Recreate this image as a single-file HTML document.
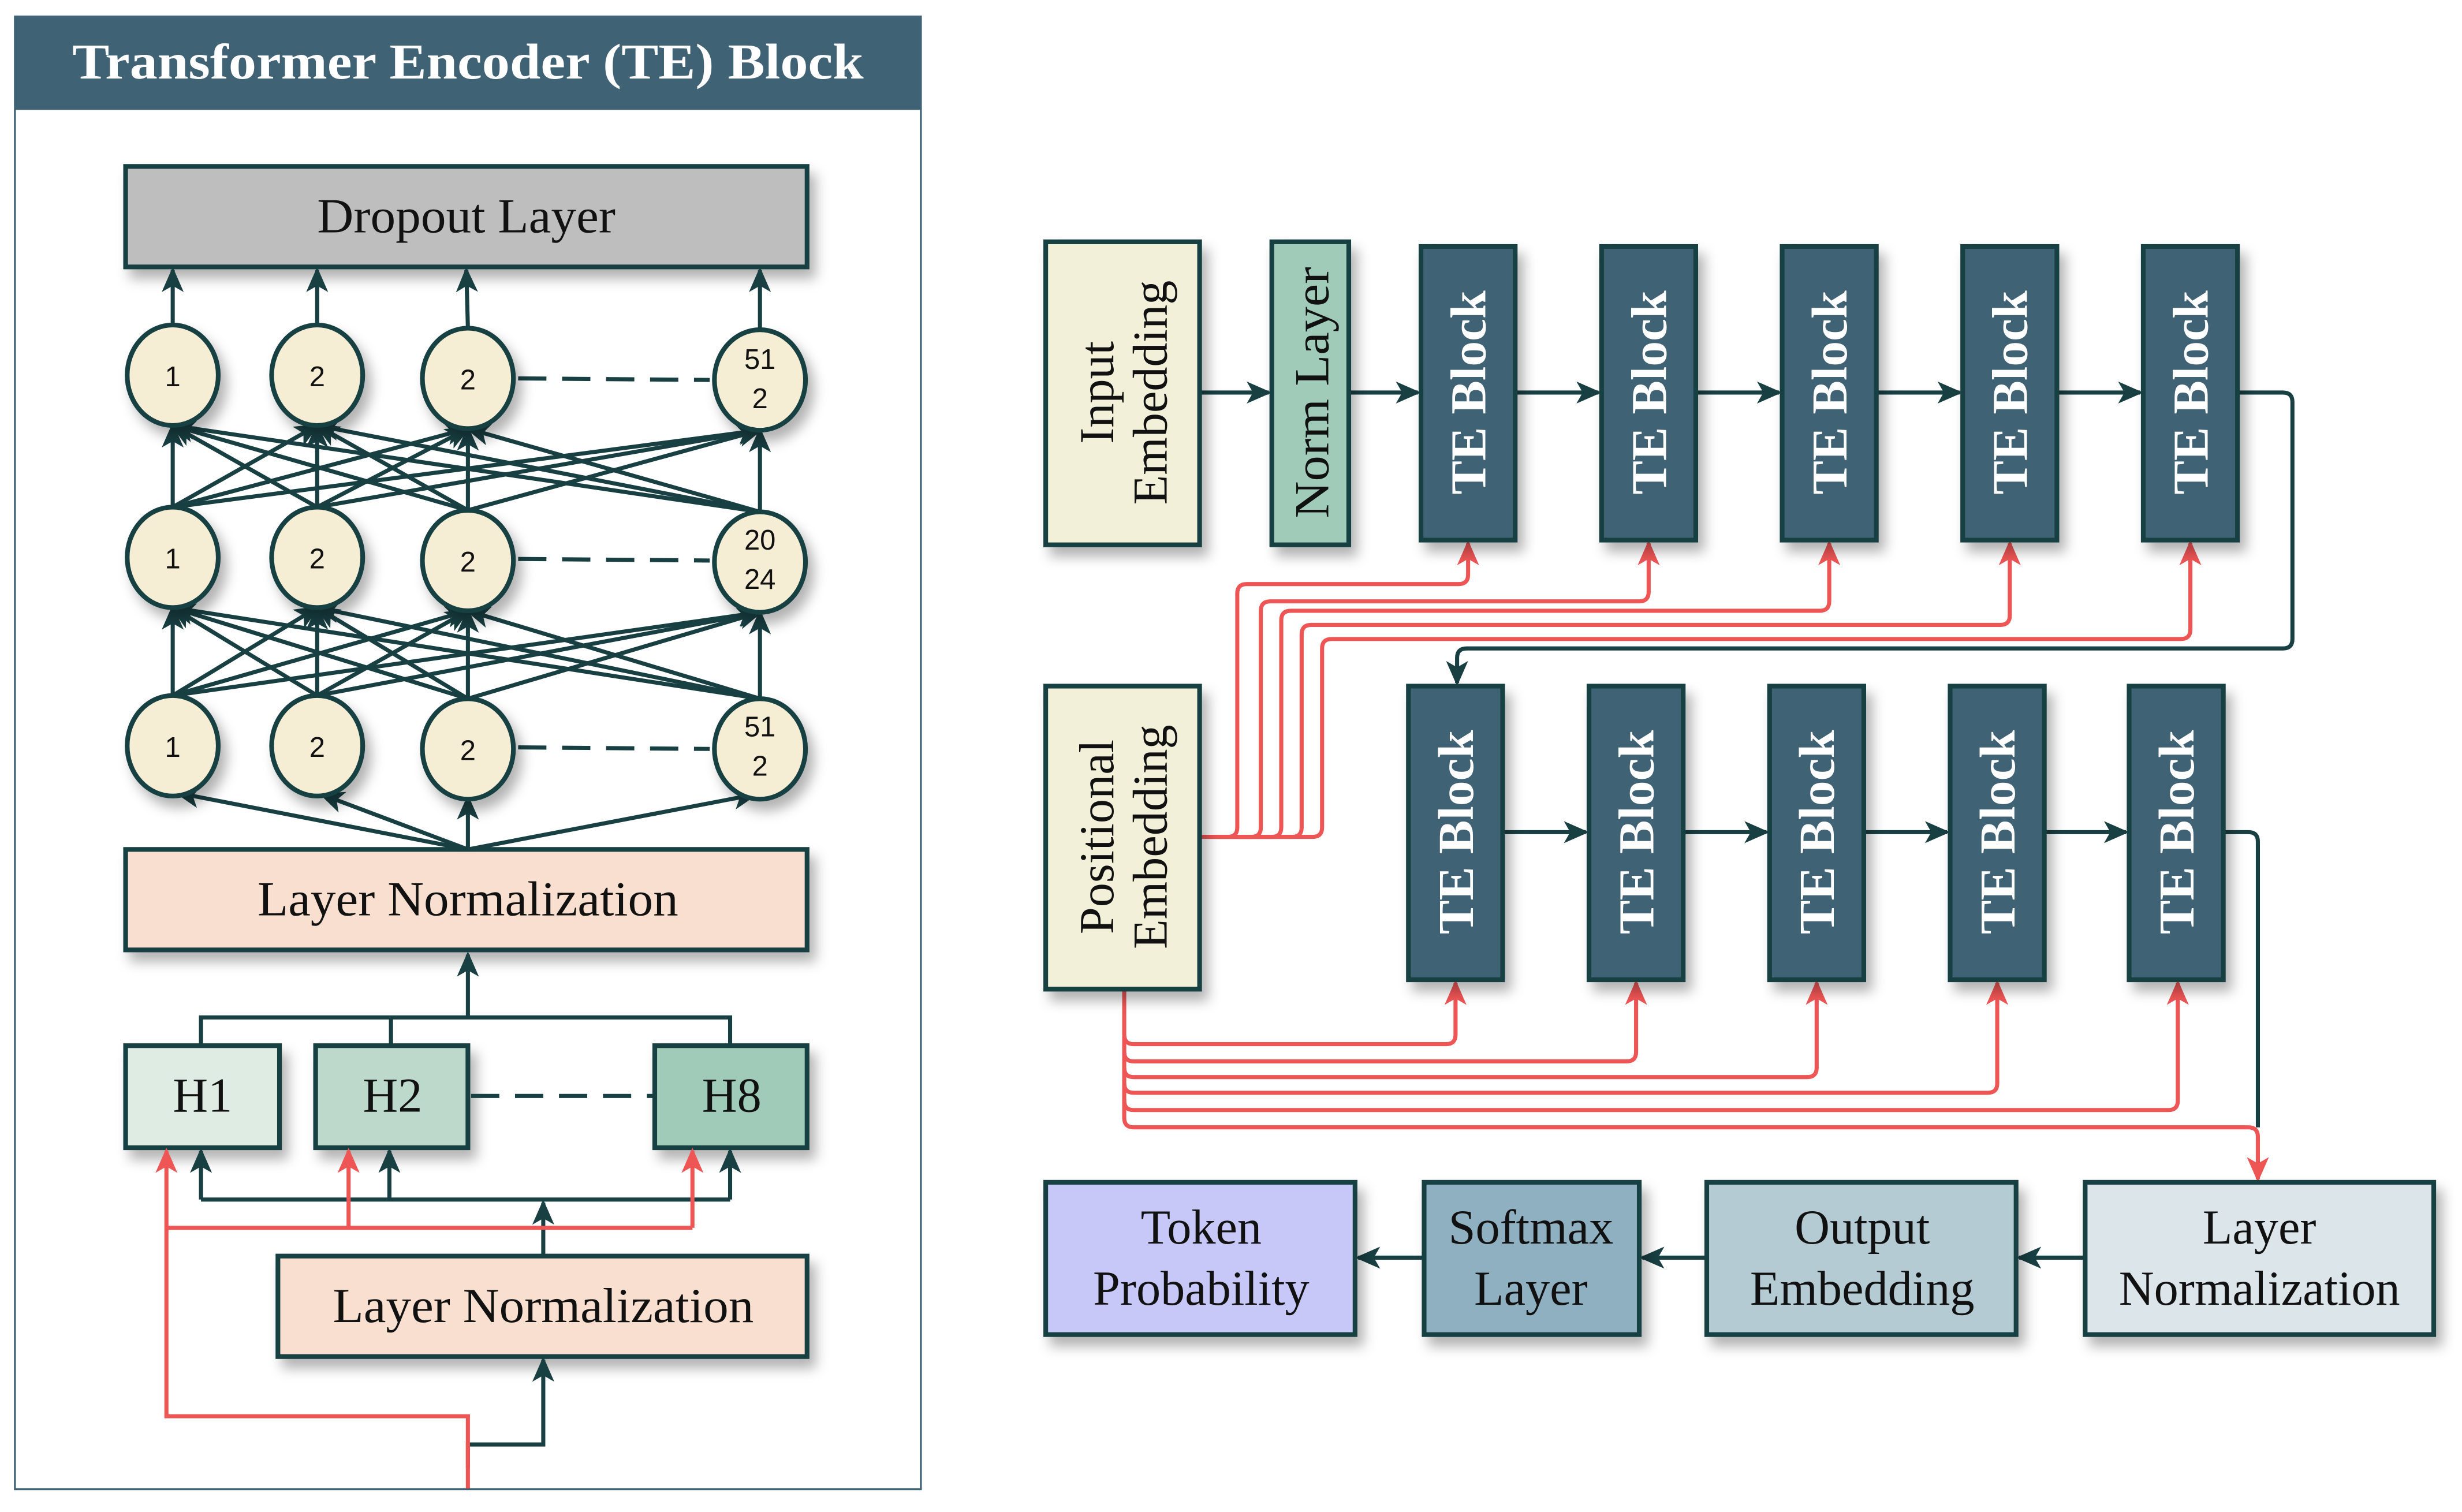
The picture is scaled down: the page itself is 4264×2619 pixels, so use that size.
<!DOCTYPE html>
<html><head><meta charset="utf-8"><style>html,body{margin:0;padding:0;background:#fff}svg{display:block}</style></head><body>
<svg width="4264" height="2619" viewBox="0 0 1568 963" preserveAspectRatio="none" xmlns="http://www.w3.org/2000/svg" font-family="'Liberation Serif',serif">
<defs>
<marker id="a" markerUnits="userSpaceOnUse" markerWidth="16" markerHeight="14" refX="14" refY="7" orient="auto"><path d="M0,0 L16,7 L0,14 L4,7 z" fill="#183f42"/></marker>
<marker id="r" markerUnits="userSpaceOnUse" markerWidth="16" markerHeight="14" refX="14" refY="7" orient="auto"><path d="M0,0 L16,7 L0,14 L4,7 z" fill="#ee5555"/></marker>
<filter id="s" x="-20%" y="-20%" width="150%" height="150%"><feDropShadow dx="4" dy="6" stdDeviation="4" flood-color="#000" flood-opacity="0.3"/></filter>
</defs>
<rect width="1568" height="963" fill="#fff"/>
<rect x="9.5" y="10.5" width="577" height="938" fill="#fff" stroke="#3f6275" stroke-width="1.2"/>
<rect x="9" y="10" width="578" height="60" fill="#3f6275"/>
<text x="298" y="50" font-size="32" font-weight="bold" fill="#fff" text-anchor="middle" textLength="504" lengthAdjust="spacingAndGlyphs">Transformer Encoder (TE) Block</text>
<g stroke="#183f42" stroke-width="3" filter="url(#s)">
<rect x="80" y="106" width="434" height="64" fill="#bebebe"/>
<rect x="80" y="541" width="434" height="64" fill="#f8dfcf"/>
<rect x="80" y="666" width="98" height="65" fill="#deece4"/>
<rect x="201" y="666" width="97" height="65" fill="#bcd9cc"/>
<rect x="417" y="666" width="97" height="65" fill="#9fcbb8"/>
<rect x="177" y="800" width="337" height="64" fill="#f8dfcf"/>
</g>
<g font-size="31" text-anchor="middle" fill="#111">
<text x="297" y="148" textLength="190" lengthAdjust="spacingAndGlyphs">Dropout Layer</text>
<text x="298" y="583" textLength="268" lengthAdjust="spacingAndGlyphs">Layer Normalization</text>
<text x="129" y="708">H1</text>
<text x="250" y="708">H2</text>
<text x="466" y="708">H8</text>
<text x="346" y="842" textLength="268" lengthAdjust="spacingAndGlyphs">Layer Normalization</text>
</g>
<g stroke="#183f42" stroke-width="2.6" fill="none" marker-end="url(#a)">
<line x1="110" y1="207" x2="110" y2="172"/><line x1="202" y1="207" x2="202" y2="172"/><line x1="298" y1="209" x2="297" y2="172"/><line x1="484" y1="209" x2="484" y2="172"/>
<line x1="110" y1="323" x2="110" y2="271"/><line x1="110" y1="323" x2="202" y2="271"/><line x1="110" y1="323" x2="298" y2="273"/><line x1="110" y1="323" x2="484" y2="274"/>
<line x1="202" y1="323" x2="110" y2="271"/><line x1="202" y1="323" x2="202" y2="271"/><line x1="202" y1="323" x2="298" y2="273"/><line x1="202" y1="323" x2="484" y2="274"/>
<line x1="298" y1="325" x2="110" y2="271"/><line x1="298" y1="325" x2="202" y2="271"/><line x1="298" y1="325" x2="298" y2="273"/><line x1="298" y1="325" x2="484" y2="274"/>
<line x1="484" y1="326" x2="110" y2="271"/><line x1="484" y1="326" x2="202" y2="271"/><line x1="484" y1="326" x2="298" y2="273"/><line x1="484" y1="326" x2="484" y2="274"/>
<line x1="110" y1="443" x2="110" y2="387"/><line x1="110" y1="443" x2="202" y2="387"/><line x1="110" y1="443" x2="298" y2="389"/><line x1="110" y1="443" x2="484" y2="390"/>
<line x1="202" y1="443" x2="110" y2="387"/><line x1="202" y1="443" x2="202" y2="387"/><line x1="202" y1="443" x2="298" y2="389"/><line x1="202" y1="443" x2="484" y2="390"/>
<line x1="298" y1="445" x2="110" y2="387"/><line x1="298" y1="445" x2="202" y2="387"/><line x1="298" y1="445" x2="298" y2="389"/><line x1="298" y1="445" x2="484" y2="390"/>
<line x1="484" y1="445" x2="110" y2="387"/><line x1="484" y1="445" x2="202" y2="387"/><line x1="484" y1="445" x2="298" y2="389"/><line x1="484" y1="445" x2="484" y2="390"/>
<line x1="298" y1="541" x2="113" y2="505"/><line x1="298" y1="541" x2="205" y2="506"/><line x1="298" y1="541" x2="298" y2="508"/><line x1="298" y1="541" x2="481" y2="506"/>
<path d="M298,648 V608"/>
<path d="M346,800 V766"/>
<path d="M128,764 V733"/><path d="M248,764 V733"/><path d="M465,764 V733"/>
<path d="M298,935 V920 H346 V866"/>
</g>
<g stroke="#183f42" stroke-width="2.6" fill="none">
<path d="M128,666 V648 H465 V666"/><path d="M249,666 V648"/>
<path d="M128,764 H465"/>
<line x1="330" y1="241" x2="452" y2="242" stroke-dasharray="18 10"/>
<line x1="330" y1="356" x2="452" y2="357" stroke-dasharray="18 10"/>
<line x1="330" y1="476" x2="452" y2="477" stroke-dasharray="18 10"/>
<line x1="300" y1="698" x2="417" y2="698" stroke-dasharray="18 10"/>
</g>
<g stroke="#ee5555" stroke-width="2.6" fill="none">
<path d="M298,948 V902 H106 V733" marker-end="url(#r)"/>
<path d="M106,782 H441"/>
<path d="M222,782 V733" marker-end="url(#r)"/>
<path d="M441,782 V733" marker-end="url(#r)"/>
</g>
<g fill="#f6eed4" stroke="#183f42" stroke-width="3" filter="url(#s)">
<ellipse cx="110" cy="239" rx="29" ry="32"/><ellipse cx="202" cy="239" rx="29" ry="32"/><ellipse cx="298" cy="241" rx="29" ry="32"/><ellipse cx="484" cy="242" rx="29" ry="32"/>
<ellipse cx="110" cy="355" rx="29" ry="32"/><ellipse cx="202" cy="355" rx="29" ry="32"/><ellipse cx="298" cy="357" rx="29" ry="32"/><ellipse cx="484" cy="358" rx="29" ry="32"/>
<ellipse cx="110" cy="475" rx="29" ry="32"/><ellipse cx="202" cy="475" rx="29" ry="32"/><ellipse cx="298" cy="477" rx="29" ry="32"/><ellipse cx="484" cy="477" rx="29" ry="32"/>
</g>
<g font-family="'Liberation Sans',sans-serif" font-size="18" text-anchor="middle" fill="#111">
<text x="110" y="246">1</text><text x="202" y="246">2</text><text x="298" y="248">2</text><text x="484" y="235">51</text><text x="484" y="260">2</text>
<text x="110" y="362">1</text><text x="202" y="362">2</text><text x="298" y="364">2</text><text x="484" y="350">20</text><text x="484" y="375">24</text>
<text x="110" y="482">1</text><text x="202" y="482">2</text><text x="298" y="484">2</text><text x="484" y="469">51</text><text x="484" y="494">2</text>
</g>
<g stroke="#ee5555" stroke-width="2.6" fill="none">
<path d="M764,533 H782 Q788,533 788,527 V378 Q788,372 794,372 H929 Q935,372 935,366 V346" marker-end="url(#r)"/>
<path d="M770,533 H797 Q803,533 803,527 V389 Q803,383 809,383 H1044 Q1050,383 1050,377 V346" marker-end="url(#r)"/>
<path d="M776,533 H810 Q816,533 816,527 V395 Q816,389 822,389 H1159 Q1165,389 1165,383 V346" marker-end="url(#r)"/>
<path d="M782,533 H823 Q829,533 829,527 V404 Q829,398 835,398 H1274 Q1280,398 1280,392 V346" marker-end="url(#r)"/>
<path d="M788,533 H836 Q842,533 842,527 V413 Q842,407 848,407 H1389 Q1395,407 1395,401 V346" marker-end="url(#r)"/>
<path d="M716,630 V659 Q716,665 722,665 H921 Q927,665 927,659 V626" marker-end="url(#r)"/>
<path d="M716,660 V670 Q716,676 722,676 H1036 Q1042,676 1042,670 V626" marker-end="url(#r)"/>
<path d="M716,670 V680 Q716,686 722,686 H1151 Q1157,686 1157,680 V626" marker-end="url(#r)"/>
<path d="M716,680 V690 Q716,696 722,696 H1266 Q1272,696 1272,690 V626" marker-end="url(#r)"/>
<path d="M716,690 V701 Q716,707 722,707 H1381 Q1387,707 1387,701 V626" marker-end="url(#r)"/>
<path d="M716,700 V712 Q716,718 722,718 H1432 Q1438,718 1438,724 V751" marker-end="url(#r)"/>
</g>
<g stroke="#183f42" stroke-width="2.6" fill="none" marker-end="url(#a)">
<path d="M764,250 H808"/><path d="M859,250 H903"/><path d="M965,250 H1018"/><path d="M1080,250 H1133"/><path d="M1195,250 H1248"/><path d="M1310,250 H1363"/>
<path d="M1425,250 H1454 Q1460,250 1460,256 V407 Q1460,413 1454,413 H934 Q928,413 928,419 V435"/>
<path d="M957,530 H1010"/><path d="M1072,530 H1125"/><path d="M1187,530 H1240"/><path d="M1302,530 H1354"/>
<path d="M1328,801 H1286"/><path d="M1087,801 H1046"/><path d="M907,801 H865"/>
</g>
<path d="M1416,530 H1432 Q1438,530 1438,536 V718" stroke="#183f42" stroke-width="2.6" fill="none"/>
<g stroke="#183f42" stroke-width="3" filter="url(#s)">
<rect x="666" y="154" width="98" height="193" fill="#f2f0d8"/>
<rect x="810" y="154" width="49" height="193" fill="#9fcbb8"/>
<rect x="666" y="437" width="98" height="193" fill="#f2f0d8"/>
<g fill="#3f6275">
<rect x="905" y="157" width="60" height="187"/><rect x="1020" y="157" width="60" height="187"/><rect x="1135" y="157" width="60" height="187"/><rect x="1250" y="157" width="60" height="187"/><rect x="1365" y="157" width="60" height="187"/>
<rect x="897" y="437" width="60" height="187"/><rect x="1012" y="437" width="60" height="187"/><rect x="1127" y="437" width="60" height="187"/><rect x="1242" y="437" width="60" height="187"/><rect x="1356" y="437" width="60" height="187"/>
</g>
<rect x="666" y="753" width="197" height="97" fill="#c8c8f8"/>
<rect x="907" y="753" width="137" height="97" fill="#8fb0c0"/>
<rect x="1087" y="753" width="197" height="97" fill="#b4cbd4"/>
<rect x="1328" y="753" width="222" height="97" fill="#dce6ea"/>
</g>
<g font-size="31" fill="#111" text-anchor="middle">
<text transform="translate(715,250) rotate(-90)"><tspan x="0" y="-6">Input</tspan><tspan x="0" y="28">Embedding</tspan></text>
<text transform="translate(846,250) rotate(-90)" textLength="160" lengthAdjust="spacingAndGlyphs">Norm Layer</text>
<text transform="translate(715,533) rotate(-90)"><tspan x="0" y="-6">Positional</tspan><tspan x="0" y="28">Embedding</tspan></text>
<text x="765" y="792">Token</text><text x="765" y="831">Probability</text>
<text x="975" y="792">Softmax</text><text x="975" y="831">Layer</text>
<text x="1186" y="792">Output</text><text x="1186" y="831">Embedding</text>
<text x="1439" y="792">Layer</text><text x="1439" y="831">Normalization</text>
</g>
<g font-size="32" font-weight="bold" fill="#fff" text-anchor="middle">
<text transform="translate(946,250) rotate(-90)" textLength="130" lengthAdjust="spacingAndGlyphs">TE Block</text>
<text transform="translate(1061,250) rotate(-90)" textLength="130" lengthAdjust="spacingAndGlyphs">TE Block</text>
<text transform="translate(1176,250) rotate(-90)" textLength="130" lengthAdjust="spacingAndGlyphs">TE Block</text>
<text transform="translate(1291,250) rotate(-90)" textLength="130" lengthAdjust="spacingAndGlyphs">TE Block</text>
<text transform="translate(1406,250) rotate(-90)" textLength="130" lengthAdjust="spacingAndGlyphs">TE Block</text>
<text transform="translate(938,530) rotate(-90)" textLength="130" lengthAdjust="spacingAndGlyphs">TE Block</text>
<text transform="translate(1053,530) rotate(-90)" textLength="130" lengthAdjust="spacingAndGlyphs">TE Block</text>
<text transform="translate(1168,530) rotate(-90)" textLength="130" lengthAdjust="spacingAndGlyphs">TE Block</text>
<text transform="translate(1283,530) rotate(-90)" textLength="130" lengthAdjust="spacingAndGlyphs">TE Block</text>
<text transform="translate(1397,530) rotate(-90)" textLength="130" lengthAdjust="spacingAndGlyphs">TE Block</text>
</g>
</svg>
</body></html>
